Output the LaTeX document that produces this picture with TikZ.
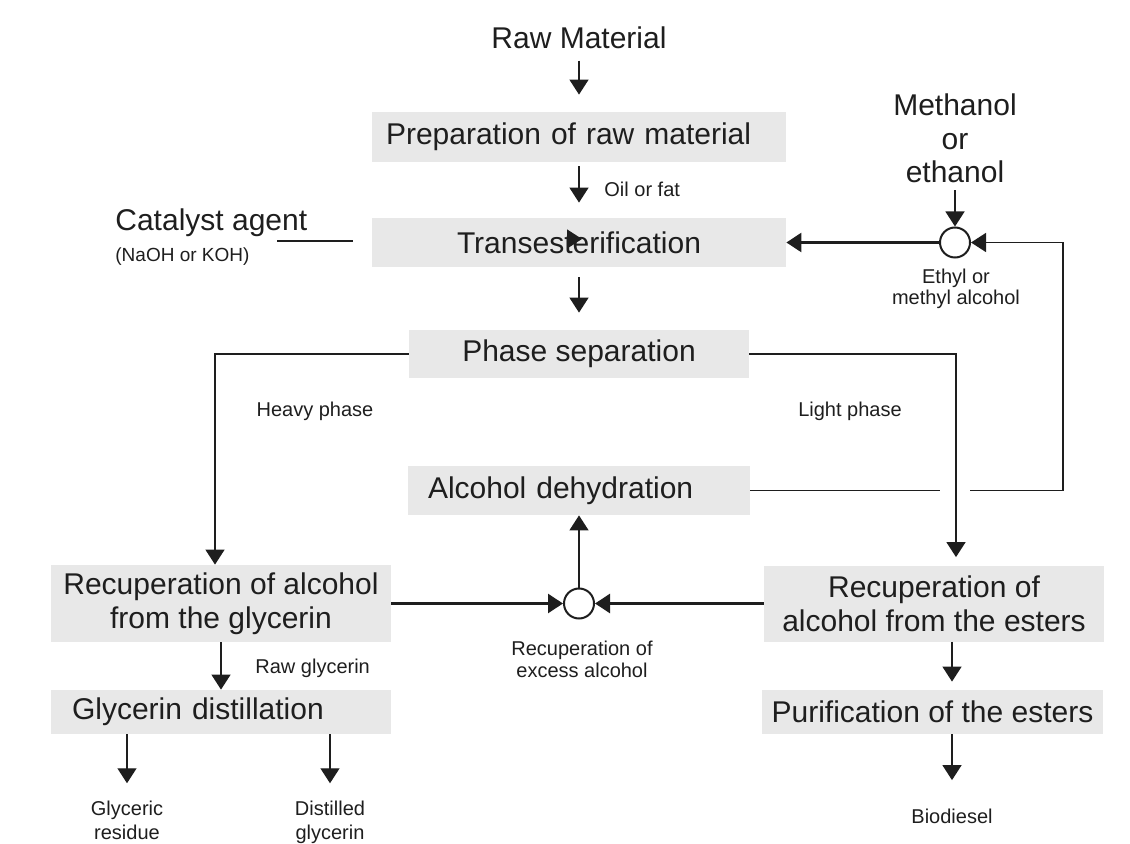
\documentclass[tikz,border=0pt]{standalone}
\usepackage{fontspec}
\setmainfont{Liberation Sans}
\usetikzlibrary{arrows.meta}
\definecolor{boxgray}{RGB}{232,232,232}
\definecolor{ink}{RGB}{30,30,30}

\begin{document}
\begin{tikzpicture}[x=0.5pt, y=-0.5pt,
        process/.style={fill=boxgray, text=ink, inner sep=0pt, align=center, font=\fontsize{15}{17}\selectfont},
        heading/.style={text=ink, inner sep=0pt, align=center, font=\fontsize{15}{16.75}\selectfont},
        caption/.style={text=ink, inner sep=0pt, align=center, font=\fontsize{10}{11}\selectfont},
        mixer/.style={circle, draw=ink, line width=1pt, fill=white, minimum size=15pt, inner sep=0pt},
        flow/.style={draw=ink, line width=0.7pt, -{Triangle[length=7.5pt, width=9.5pt]}},
        feed/.style={flow, line width=1.3pt},
        wire/.style={draw=ink, line width=0.6pt}]
        \useasboundingbox (0,0) rectangle (1130,844);

        \node[style=process, minimum width=207pt, minimum height=25pt, text width=193pt, inner xsep=7pt, align=left] (prep) at (579,137) {Preparation of raw material};
        \node[style=process, minimum width=207pt, minimum height=24.5pt] (trans) at (579,242.5) {Transesterification};
        \node[style=process, minimum width=170pt, minimum height=24pt] (phase) at (579,354) {Phase separation};
        \node[style=process, minimum height=24.5pt, text width=151pt, inner xsep=10pt, align=left] (dehyd) at (579,490.5) {Alcohol dehydration};
        \node[style=process, minimum width=170pt, minimum height=38.5pt] (glyrec) at (221,603.5) {Recuperation of alcohol\\from the glycerin};
        \node[style=process, minimum height=22pt, text width=149pt, inner xsep=10.5pt, align=left] (glydist) at (221,712) {Glycerin distillation};
        \node[style=process, minimum width=170pt, minimum height=38pt] (estrec) at (934,603.5) {Recuperation of\\alcohol from the esters};
        \node[style=process, minimum width=170.5pt, minimum height=22pt] (purif) at (932.5,712) {Purification of the esters};

        \node[style=mixer] (mixa) at (955,242.5) {};
        \node[style=mixer] (mixb) at (579,603.5) {};

        \node[style=heading, anchor=base] (raw) at (579,49) {Raw Material};
        \node[style=caption, anchor=base west] (oil) at (604,197) {Oil or fat};
        \node[style=heading, anchor=base west] (catalyst) at (115,231) {Catalyst agent};
        \node[style=caption, anchor=base west, font=\fontsize{9.5}{11}\selectfont] (naoh) at (115,262) {(NaOH or KOH)};
        \node[style=heading] (methanol) at (955,138.5) {Methanol\\or\\ethanol};
        \node[style=caption, font=\fontsize{10}{10.5}\selectfont] (ethyl) at (956,289) {Ethyl or\\methyl alcohol};
        \node[style=caption, anchor=base] (heavy) at (315,417) {Heavy phase};
        \node[style=caption, anchor=base] (light) at (850,417) {Light phase};
        \node[style=caption] (excess) at (582,659) {Recuperation of\\excess alcohol};
        \node[style=caption, anchor=base west] (rawgly) at (255,673) {Raw glycerin};
        \node[style=caption, font=\fontsize{10}{12}\selectfont] (residue) at (127,820) {Glyceric\\residue};
        \node[style=caption, font=\fontsize{10}{12}\selectfont] (distilled) at (330,822) {Distilled\\glycerin};
        \node[style=caption, anchor=base] (biodiesel) at (952,823) {Biodiesel};

        \coordinate (catl) at (277,241);
        \coordinate (catr) at (353,241);
        \coordinate (gapl) at (940,490.5);
        \coordinate (gapr) at (970,490.5);
        \coordinate (corner) at (1063,490.5);

        \draw[flow, shorten <=5.5pt, shorten >=8.5pt] (raw) -- (prep);
        \draw[flow, shorten <=2pt, shorten >=7.5pt] (prep) -- (trans);
        \draw[flow, shorten <=5pt, shorten >=8.5pt] (trans) -- (phase);
        \draw[flow] (phase.west) -| ([xshift=-3pt]glyrec.north);
        \draw[flow, shorten >=4pt] (phase.east) -| ([xshift=11pt]estrec.north);
        \draw[wire] (dehyd.east) -- (gapl);
        \draw[flow] (gapr) -- (corner) |- (mixa.east);
        \draw[flow, shorten <=3.5pt] (methanol) -- (mixa);
        \draw[feed] (mixa) -- (trans);
        \draw[wire] (catl) -- (catr);
        \draw[flow] ([xshift=-6pt, yshift=1.75pt]trans.center) -- ([xshift=1.5pt, yshift=1.75pt]trans.center);
        \draw[feed] (glyrec) -- (mixb);
        \draw[feed] (estrec) -- (mixb);
        \draw[flow] (mixb) -- (dehyd);
        \draw[flow] (glyrec) -- (glydist);
        \draw[flow, shorten >=8.5pt] (glydist.south -| residue) -- (residue);
        \draw[flow, shorten >=8.5pt] (glydist.south -| distilled) -- (distilled);
        \draw[flow, shorten >=4pt] (estrec.south -| biodiesel) -- (purif.north -| biodiesel);
        \draw[flow, shorten >=14pt] (purif.south -| biodiesel) -- (biodiesel);
    \end{tikzpicture}
\end{document}
